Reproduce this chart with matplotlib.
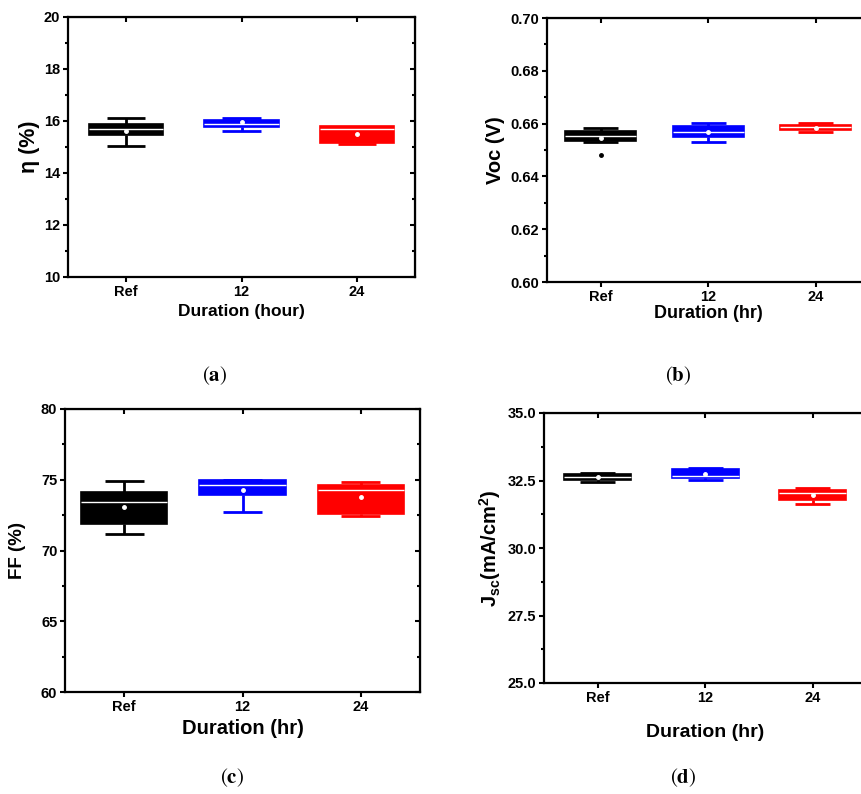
import numpy as np
import matplotlib.pyplot as plt
from matplotlib.ticker import MultipleLocator

plt.rcParams['font.family'] = ['Liberation Sans', 'DejaVu Sans']
plt.rcParams['font.weight'] = 'bold'
plt.rcParams['axes.labelweight'] = 'bold'
plt.rcParams['mathtext.fontset'] = 'custom'
plt.rcParams['mathtext.default'] = 'rm'
plt.rcParams['mathtext.rm'] = 'Liberation Sans:bold'
plt.rcParams['mathtext.bf'] = 'STIXGeneral:bold'

groups = ['Ref', '12', '24']
colors = ['#000000', '#0000ff', '#ff0000']

# box statistics: whislo, q1, median, q3, whishi, mean
eff_stats = [[15.05, 15.46, 15.68, 15.88, 16.10, 15.62],
             [15.62, 15.78, 15.90, 16.02, 16.13, 15.96],
             [15.10, 15.14, 15.68, 15.80, 15.77, 15.50]]
eff_fliers = [[], [], []]

voc_stats = [[0.6530, 0.6535, 0.6552, 0.6572, 0.6583, 0.6545],
             [0.6530, 0.6548, 0.6568, 0.6592, 0.6602, 0.6568],
             [0.6568, 0.6574, 0.6586, 0.6593, 0.6602, 0.6585]]
voc_fliers = [[0.6480], [], []]

ff_stats = [[71.15, 71.90, 73.40, 74.15, 74.90, 73.05],
            [72.75, 73.90, 74.65, 74.98, 75.00, 74.28],
            [72.45, 72.60, 74.30, 74.60, 74.85, 73.80]]
ff_fliers = [[], [], []]

jsc_stats = [[32.46, 32.53, 32.63, 32.74, 32.78, 32.63],
             [32.53, 32.61, 32.67, 32.92, 32.95, 32.75],
             [31.64, 31.76, 32.03, 32.16, 32.24, 31.97]]
jsc_fliers = [[], [], []]


def to_bxp(stats, fliers):
    out = []
    for s, f in zip(stats, fliers):
        out.append(dict(whislo=s[0], q1=s[1], med=s[2], q3=s[3],
                        whishi=s[4], mean=s[5], fliers=f))
    return out


def box_panel(ax, stats, fliers, ylim, major, minor, ylabel, xlabel,
              width, fmt=None, lsize=12.5, ylsize=None, xpad=4, ypad=4):
    bp = ax.bxp(to_bxp(stats, fliers), positions=[1, 2, 3], widths=width,
                capwidths=0.33, patch_artist=True, showmeans=True,
                showfliers=True)
    for i, c in enumerate(colors):
        bp['boxes'][i].set(facecolor=c, edgecolor=c, linewidth=1.2)
        bp['medians'][i].set(color='white', linewidth=1.0)
        for ln in bp['whiskers'][2 * i:2 * i + 2] + bp['caps'][2 * i:2 * i + 2]:
            ln.set(color=c, linewidth=2.0, solid_capstyle='butt')
        bp['means'][i].set(marker='o', markerfacecolor='white',
                           markeredgecolor='white', markersize=2.5)
        bp['fliers'][i].set(marker='o', markerfacecolor=c, markeredgecolor=c,
                            markersize=2.5)
    ax.set_xlim(0.5, 3.5)
    ax.set_ylim(*ylim)
    ax.set_xticks([1, 2, 3])
    ax.set_xticklabels(groups)
    ax.yaxis.set_major_locator(MultipleLocator(major))
    ax.yaxis.set_minor_locator(MultipleLocator(minor))
    if fmt:
        ax.yaxis.set_major_formatter(plt.FormatStrFormatter(fmt))
    ax.tick_params(which='major', direction='out', length=3.5, width=1.5,
                   labelsize=10.5, pad=2)
    ax.tick_params(which='minor', direction='out', length=2, width=1.5)
    for sp in ax.spines.values():
        sp.set_linewidth(1.6)
    # mirrored inward ticks on top and right
    top = ax.secondary_xaxis('top')
    top.set_xticks([1, 2, 3])
    top.tick_params(direction='in', length=3.5, width=1.5, labeltop=False)
    right = ax.secondary_yaxis('right')
    right.yaxis.set_major_locator(MultipleLocator(major))
    right.yaxis.set_minor_locator(MultipleLocator(minor))
    right.tick_params(which='major', direction='in', length=3.5, width=1.5,
                      labelright=False)
    right.tick_params(which='minor', direction='in', length=2, width=1.5)
    ax.set_xlabel(xlabel, fontsize=lsize, labelpad=xpad)
    ax.set_ylabel(ylabel, fontsize=ylsize or lsize, labelpad=ypad)


fig = plt.figure(figsize=(8.61, 7.94), dpi=100)
W, H = 861.0, 794.0


def add_axes(left, top, width, bottom):
    return fig.add_axes([left / W, 1 - bottom / H, width / W, (bottom - top) / H])


ax_a = add_axes(68, 17, 347, 277)
ax_b = add_axes(547, 18, 322.5, 282)
ax_c = add_axes(65, 409, 355, 692)
ax_d = add_axes(544, 413, 322.5, 683)

box_panel(ax_a, eff_stats, eff_fliers, (10, 20), 2, 1,
          'η (%)', 'Duration (hour)', 0.64, lsize=12.5, ylsize=15.5, ypad=3)
box_panel(ax_b, voc_stats, voc_fliers, (0.60, 0.70), 0.02, 0.01,
          'Voc (V)', 'Duration (hr)', 0.66, fmt='%.2f', lsize=13,
          ylsize=14.5, xpad=1, ypad=4)
box_panel(ax_c, ff_stats, ff_fliers, (60, 80), 5, 2.5,
          'FF (%)', 'Duration (hr)', 0.73, lsize=14.5, ylsize=13.5, ypad=11)
box_panel(ax_d, jsc_stats, jsc_fliers, (25, 35), 2.5, 1.25,
          r'J$_{sc}$(mA/cm$^{2}$)', 'Duration (hr)', 0.62, fmt='%.1f',
          lsize=14, ylsize=14.5, xpad=14, ypad=3)

cap_kw = dict(fontsize=15, family='STIXGeneral', weight='normal',
              ha='center', va='center')
fig.text(215 / W, 1 - 376 / H, r'($\mathbf{a}$)', **cap_kw)
fig.text(678 / W, 1 - 376 / H, r'($\mathbf{b}$)', **cap_kw)
fig.text(232 / W, 1 - 778 / H, r'($\mathbf{c}$)', **cap_kw)
fig.text(683 / W, 1 - 778 / H, r'($\mathbf{d}$)', **cap_kw)

fig.savefig('out.png', dpi=100)
